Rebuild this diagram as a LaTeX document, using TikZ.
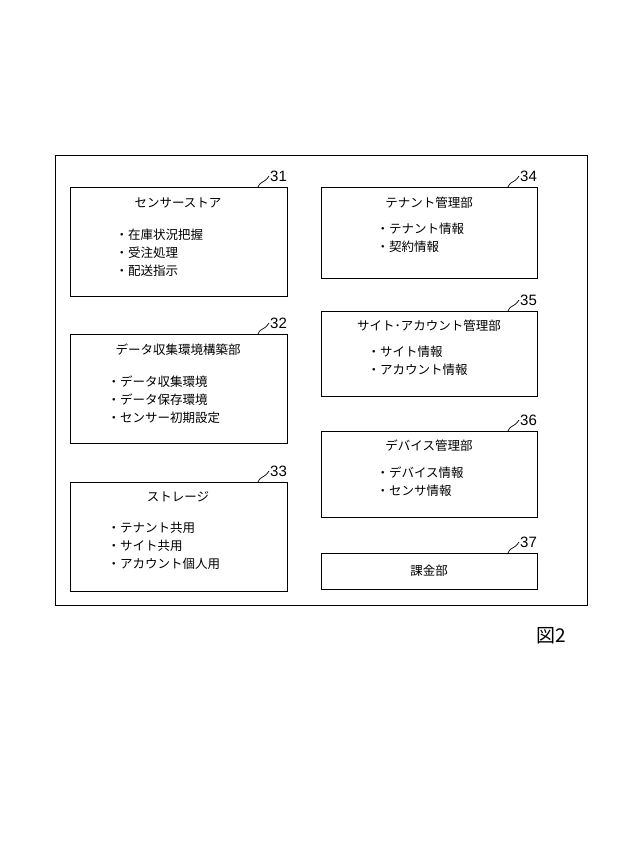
\documentclass[tikz,border=0pt]{standalone}
\usepackage{fontspec}
\setmainfont{Noto Sans CJK JP}
\newfontfamily\numfont{Liberation Sans}
\begin{document}
\begin{tikzpicture}[x=1pt,y=-1pt,
  box/.style={draw,line width=0.9pt},
  ttl/.style={font=\fontsize{12.5}{14}\selectfont},
  items/.style={font=\fontsize{12.5}{18}\selectfont,align=left,anchor=north west},
  num/.style={font=\numfont\fontsize{15}{16}\selectfont,anchor=west,inner sep=1pt}]
\useasboundingbox (0,0) rectangle (640,866);
\draw[box] (55,155) rectangle (587,605);
% left boxes
\draw[box] (70,187) rectangle (287,296);
\draw[box] (70,334) rectangle (287,443);
\draw[box] (70,482) rectangle (287,591);
% right boxes
\draw[box] (321,187) rectangle (537,278);
\draw[box] (321,311) rectangle (537,396);
\draw[box] (321,431) rectangle (537,517);
\draw[box] (321,553) rectangle (537,589);
% titles
\node[ttl] (t31) at (178,203) {センサーストア};
\node[items] (i31) at (112,225) {・在庫状況把握\\・受注処理\\・配送指示};
\node[ttl] (t32) at (178,350) {データ収集環境構築部};
\node[items] (i32) at (104,372) {・データ収集環境\\・データ保存環境\\・センサー初期設定};
\node[ttl] (t33) at (178,497) {ストレージ};
\node[items] (i33) at (104,519) {・テナント共用\\・サイト共用\\・アカウント個人用};
\node[ttl] (t34) at (429,203) {テナント管理部};
\node[items] (i34) at (373,219) {・テナント情報\\・契約情報};
\node[ttl] (t35) at (429,326) {サイト･アカウント管理部};
\node[items] (i35) at (364,342) {・サイト情報\\・アカウント情報};
\node[ttl] (t36) at (429,446) {デバイス管理部};
\node[items] (i36) at (373,463) {・デバイス情報\\・センサ情報};
\node[ttl] (t37) at (429,571) {課金部};
% reference numerals
\foreach \n/\x/\y in {31/258/187, 32/258/334, 33/258/482, 34/508/187, 35/508/311, 36/508/431, 37/508/553}{
  \coordinate (s\n) at (\x,\y);
  \node[num] (n\n) at (\x+11,\y-11) {\n};
  \draw[line width=0.7pt] (s\n) .. controls (\x+3,\y-7) and (\x+6,\y-3) .. (n\n.west);
}
\node[font=\fontsize{19}{20}\selectfont] (fig) at (551,636) {図2};
\end{tikzpicture}
\end{document}
